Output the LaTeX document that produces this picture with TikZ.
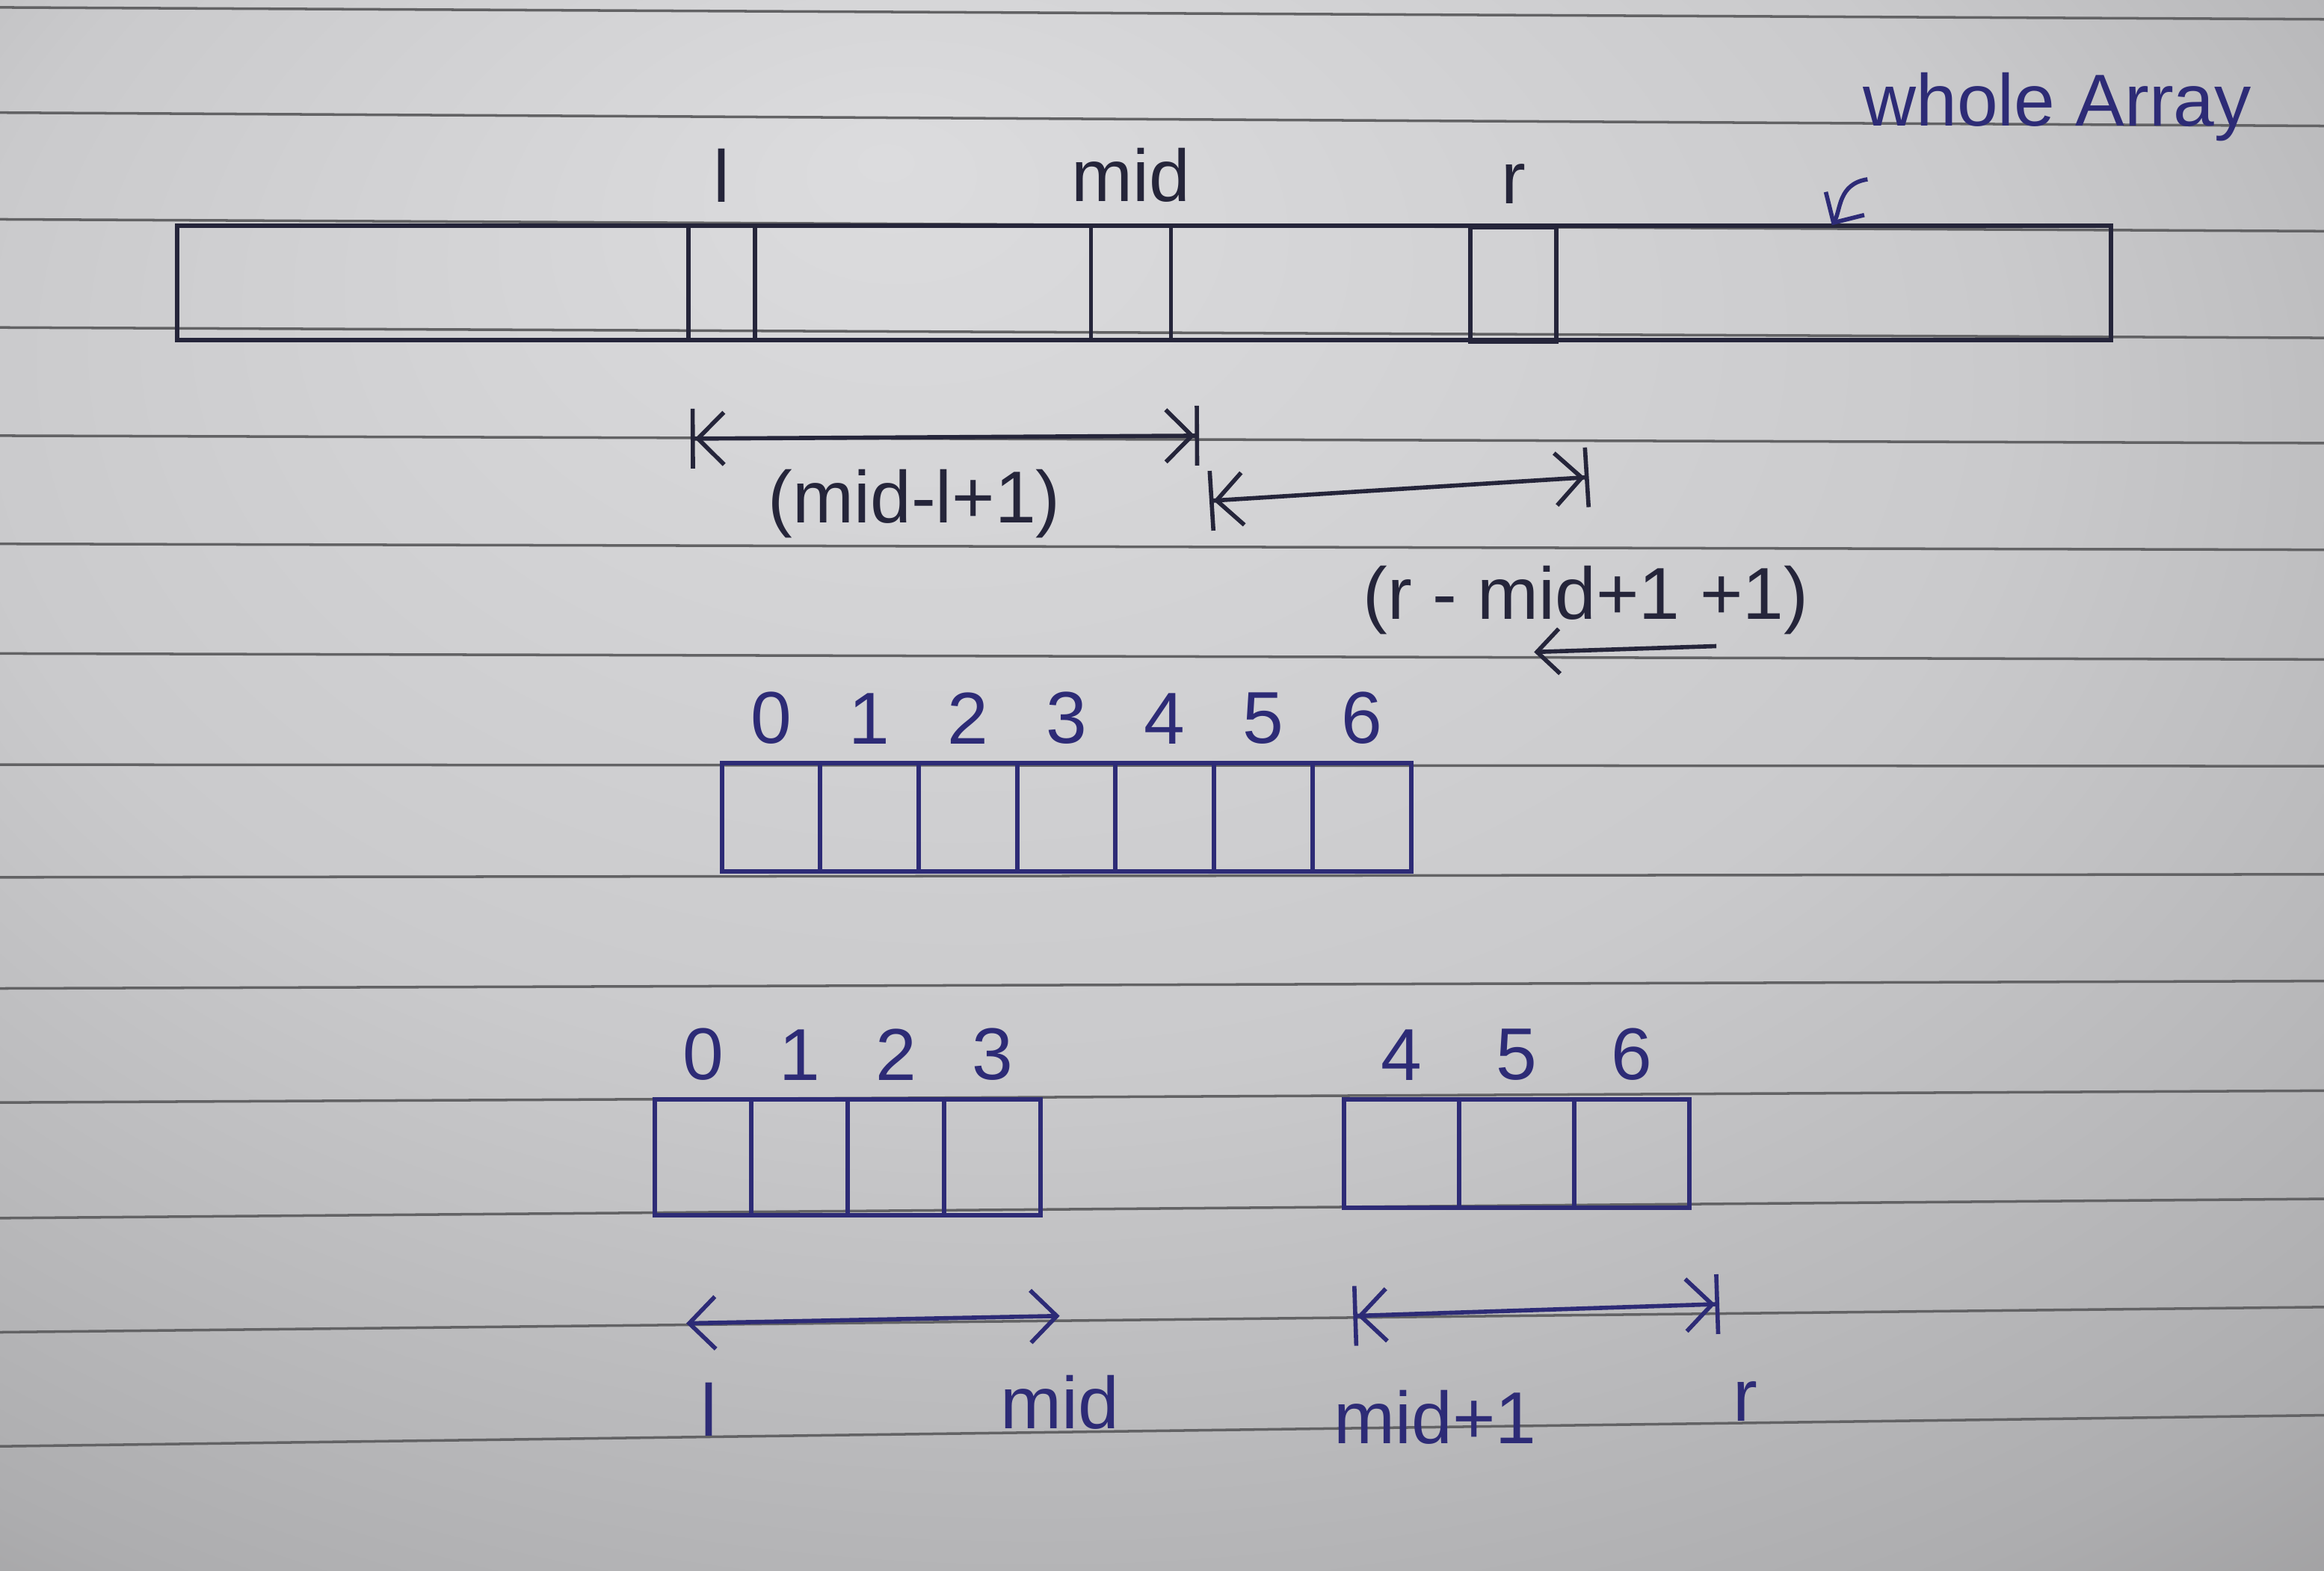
\documentclass[tikz,border=0pt]{standalone}
\usepackage{fontspec}
\setmainfont{Liberation Sans}
\definecolor{PaperLight}{HTML}{DCDCDE}
\definecolor{PaperMid}{HTML}{CACACC}
\definecolor{PaperEdge}{HTML}{ADADAF}
\definecolor{PaperDark}{HTML}{868485}
\definecolor{PaperDeep}{HTML}{6E6C6C}
\definecolor{RuleGray}{HTML}{626264}
\definecolor{InkDark}{HTML}{25253A}
\definecolor{InkBlue}{HTML}{2D2B76}
\usetikzlibrary{arrows.meta,positioning,calc}
\pgfdeclareradialshading{paperglow}{\pgfpoint{-6bp}{20bp}}{color(0bp)=(PaperLight); color(22bp)=(PaperMid); color(38bp)=(PaperEdge); color(52bp)=(PaperDark); color(62bp)=(PaperDeep)}
\tikzset{
  paper/.style={shading=paperglow},
  ruling/.style={draw=RuleGray, line width=1pt},
  wholebox/.style={draw=InkDark, line width=1.7pt, inner sep=0pt, minimum width=25.88cm, minimum height=1.53cm},
  markbox/.style={draw=InkDark, line width=1.6pt, inner sep=0pt, minimum height=1.53cm},
  cell/.style={draw=InkBlue, line width=1.7pt, inner sep=0pt},
  hand/.style={font=\fontsize{28}{32}\selectfont, inner sep=1pt},
  darkhand/.style={hand, text=InkDark},
  bluehand/.style={hand, text=InkBlue},
  spanarrow/.style={{Bar[width=8mm]Straight Barb[length=3.5mm,width=7mm]}-{Straight Barb[length=3.5mm,width=7mm]Bar[width=8mm]}, line width=1.6pt},
  twoarrow/.style={{Straight Barb[length=3.5mm,width=7mm]}-{Straight Barb[length=3.5mm,width=7mm]}, line width=1.6pt},
  hookarrow/.style={-{Straight Barb[length=3mm,width=6mm]}, line width=1.6pt}
}

\begin{document}
\begin{tikzpicture}[x=0.01983cm, y=-0.01983cm]
% the sheet
\shade[paper] (0,0) rectangle (1568,1060);
\useasboundingbox (0,0) rectangle (1568,1060);
\foreach \yl/\yr in {5/13, 76/85, 148/156, 221/228, 294/299, 367/371, 441/445, 516/517, 592/590, 667/662, 744/736, 822/809, 899/882, 976/955}
  \draw[ruling] (0,\yl) -- (1568,\yr);

% whole array with l, mid, r
\node[wholebox] (whole) at (772,191) {};
\node[markbox, minimum width=0.89cm] (lbox) at (487,191) {};
\node[markbox, minimum width=1.07cm] (midbox) at (763,191) {};
\node[markbox, minimum width=1.15cm] (rbox) at (1021,192) {};
\node[darkhand, above=0.25cm of lbox] (lname) {l};
\node[darkhand, above=0.25cm of midbox] (midname) {mid};
\node[darkhand, above=0.25cm of rbox] (rname) {r};
\node[bluehand] (title) at (1388,72) {whole Array};
\coordinate (curlA) at (1260,121);
\coordinate (curlB) at (1236,152);
\draw[hookarrow, InkBlue] (curlA) .. controls (1240,124) and (1242,142) .. (curlB);

% sizes of the two halves
\coordinate (s1a) at (466,296);
\coordinate (s1b) at (809,294);
\draw[spanarrow, InkDark] (s1a) -- (s1b);
\node[darkhand] (len1) at (617,340) {(mid-l+1)};
\coordinate (s2a) at (816,338);
\coordinate (s2b) at (1072,322);
\draw[spanarrow, InkDark] (s2a) -- (s2b);
\node[darkhand] (len2) at (1070,405) {(r - mid+1 +1)};
\coordinate (u2a) at (1158,436);
\coordinate (u2b) at (1035,440);
\draw[hookarrow, InkDark] (u2a) -- (u2b);

% example with 7 elements
\foreach \i in {0,...,6} {
  \node[cell, minimum width=1.317cm, minimum height=1.45cm] (a\i) at ({520.2+66.43*\i},551.5) {};
  \node[bluehand, above=0.18cm of a\i] (ai\i) {\i};
}

% split into two halves
\foreach \i in {0,...,3} {
  \node[cell, minimum width=1.289cm, minimum height=1.55cm] (b\i) at ({474.5+65*\i},781) {};
  \node[bluehand, above=0.18cm of b\i] (bi\i) {\i};
}
\foreach \i [count=\k from 0] in {4,5,6} {
  \node[cell, minimum width=1.54cm, minimum height=1.45cm] (c\i) at ({945.8+77.67*\k},778.5) {};
  \node[bluehand, above=0.18cm of c\i] (ci\i) {\i};
}

\coordinate (s3a) at (463,893);
\coordinate (s3b) at (715,888);
\draw[twoarrow, InkBlue] (s3a) -- (s3b);
\node[bluehand, below=0.75cm of s3a, xshift=0.3cm] (lo) {l};
\node[bluehand, below=0.75cm of s3b] (mido) {mid};
\coordinate (s4a) at (913,888);
\coordinate (s4b) at (1160,880);
\draw[spanarrow, InkBlue] (s4a) -- (s4b);
\node[bluehand, below=0.95cm of s4a, xshift=1.1cm] (midp) {mid+1};
\node[bluehand, below=1.0cm of s4b, xshift=0.35cm] (ro) {r};
\end{tikzpicture}
\end{document}
